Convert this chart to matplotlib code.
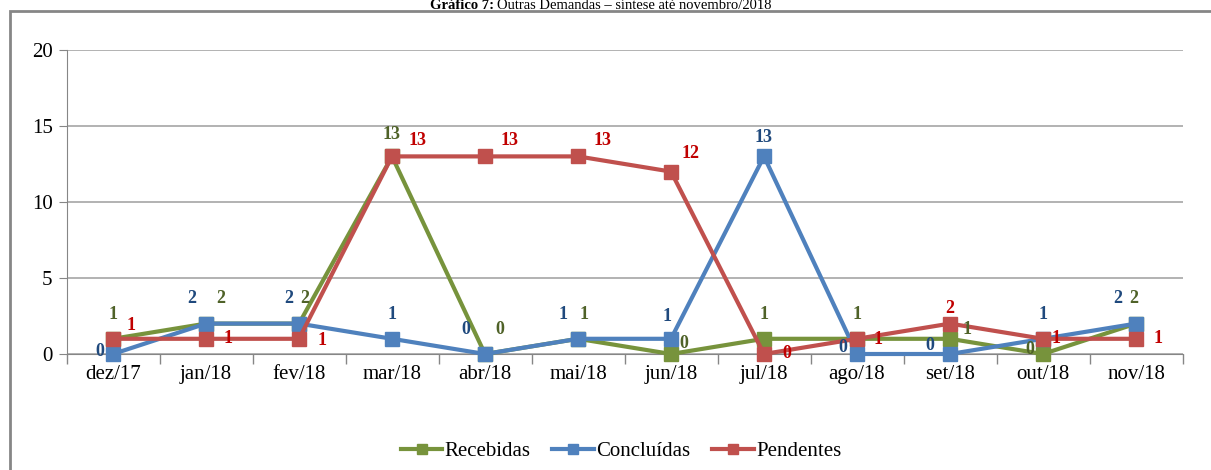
import matplotlib.pyplot as plt
from matplotlib.patches import Rectangle

months = ['dez/17', 'jan/18', 'fev/18', 'mar/18', 'abr/18', 'mai/18',
          'jun/18', 'jul/18', 'ago/18', 'set/18', 'out/18', 'nov/18']
recebidas = [1, 2, 2, 13, 0, 1, 0, 1, 1, 1, 0, 2]
concluidas = [0, 2, 2, 1, 0, 1, 1, 13, 0, 0, 1, 2]
pendentes = [1, 1, 1, 13, 13, 13, 12, 0, 1, 2, 1, 1]

# label offsets in pixels (dx, dy)
off_rec = [(0, 24), (15, 25), (6, 25), (0, 22), (15, 25), (6, 24),
           (13, 11), (0, 24), (0, 24), (17, 9), (-13, 4), (-2, 25)]
off_con = [(-13, 2), (-14, 25), (-10, 25), (0, 24), (-19, 24), (-15, 24),
           (-4, 22), (0, 19), (-14, 7), (-20, 9), (0, 24), (-18, 25)]
off_pen = [(18, 13), (22, 0), (23, -2), (26, 16), (25, 16), (25, 16),
           (20, 18), (23, 0), (21, -1), (0, 15), (13, 0), (22, 0)]

plt.rcParams['font.family'] = ['Liberation Serif', 'DejaVu Serif']

fig = plt.figure(figsize=(12.11, 4.70), dpi=100)
ax = fig.add_axes([66.5 / 1211, 1 - 354 / 470, 1116 / 1211, 304 / 470])

x = list(range(len(months)))
series = [
    ('Recebidas', recebidas, '#77933C', '#4F6228', off_rec),
    ('Concluídas', concluidas, '#4F81BD', '#1F497D', off_con),
    ('Pendentes', pendentes, '#C0504D', '#C00000', off_pen),
]
for name, vals, col, lcol, offs in series:
    ax.plot(x, vals, color=col, lw=3, marker='s', ms=9.5, label=name,
            solid_joinstyle='round', clip_on=False, zorder=3)
for name, vals, col, lcol, offs in series:
    for xi, v, (dx, dy) in zip(x, vals, offs):
        ax.annotate(str(v), (xi, v), xytext=(dx, dy), textcoords='offset pixels',
                    ha='center', va='center', color=lcol, fontsize=13,
                    fontweight='bold', zorder=4)

ax.set_xlim(-0.5, 11.5)
ax.set_ylim(0, 20)
ax.set_yticks([0, 5, 10, 15, 20])
ax.set_xticks(x)
ax.set_xticklabels(months)
ax.set_xticks([i + 0.5 for i in range(-1, 12)], minor=True)
ax.tick_params(axis='x', which='major', length=0, labelsize=15, pad=8)
ax.tick_params(axis='x', which='minor', length=7, color='#868686', width=1)
ax.tick_params(axis='y', length=6, color='#868686', labelsize=15, pad=4)
ax.grid(axis='y', color='#A6A6A6', lw=1.2)
ax.set_axisbelow(True)
for s in ['top', 'right']:
    ax.spines[s].set_visible(False)
for s in ['left', 'bottom']:
    ax.spines[s].set_color('#868686')

leg = fig.legend(loc='center', bbox_to_anchor=(621 / 1211, 1 - 451 / 470),
                 ncol=3, frameon=False, fontsize=15, handlelength=2.0,
                 handletextpad=0.1, columnspacing=1.05, markerscale=0.8)

# chart area border
fig.patches.append(Rectangle((10 / 1211, -0.05), 1.1, 1 - 11 / 470 + 0.05,
                             transform=fig.transFigure, fill=False,
                             ec='#868686', lw=2))

# title (the source crops it at the top edge; shrunk here so it stays whole)
t1 = fig.text(430 / 1211, 1 - 9 / 470, 'Gráfico 7:', fontsize=10.5,
              fontweight='bold', ha='left', va='baseline')
fig.canvas.draw()
bb = t1.get_window_extent()
fig.text((bb.x1 + 3) / 1211, 1 - 9 / 470,
         'Outras Demandas – síntese até novembro/2018', fontsize=10.5,
         ha='left', va='baseline')

fig.savefig('out.png', dpi=100)
